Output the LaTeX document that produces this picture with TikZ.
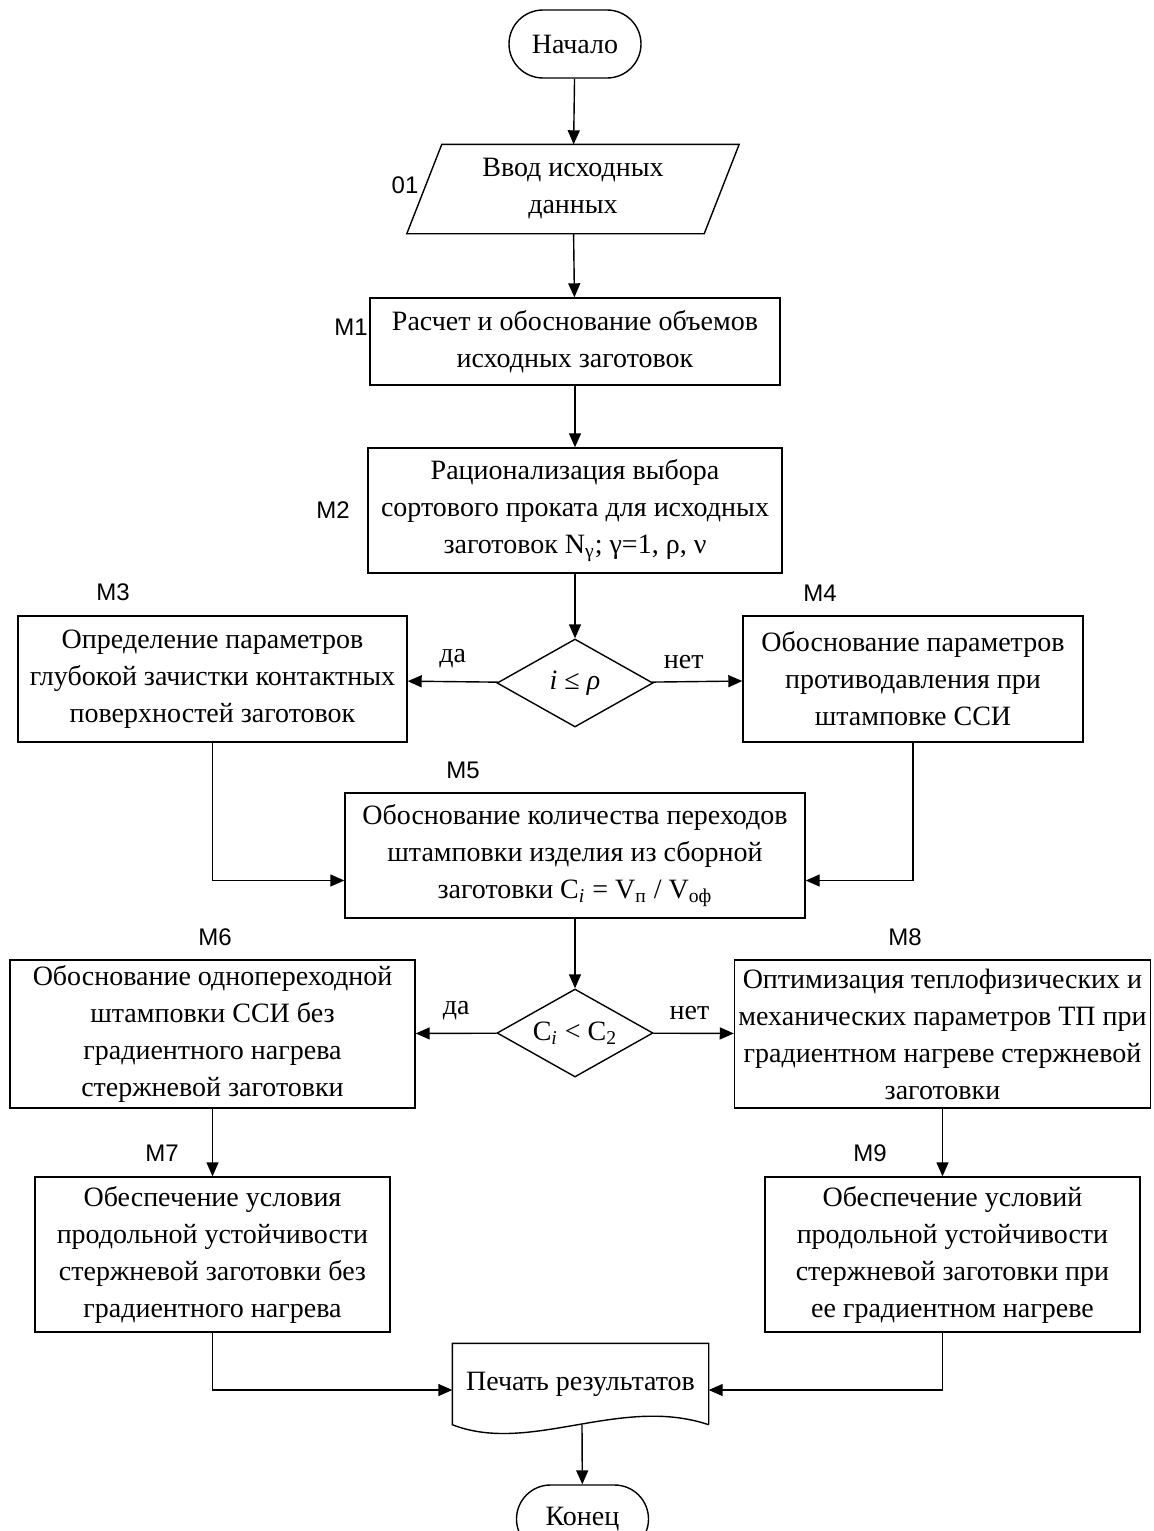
\documentclass[tikz,border=0pt]{standalone}
\usepackage{fontspec}
\setmainfont{Liberation Serif}
\newfontfamily\labfont{Liberation Sans}
\usetikzlibrary{arrows.meta,shapes.misc,shapes.geometric,calc}

\begin{document}
\begin{tikzpicture}[x=0.5pt,y=-0.5pt,line width=0.7pt,>={Triangle[length=7pt,width=6pt]}]
    \tikzstyle{block}=[draw,align=center,inner sep=2pt,font=\fontsize{14}{18.5}\selectfont]
    \tikzstyle{term}=[draw,rounded rectangle,minimum width=70pt,minimum height=34pt,inner sep=2pt,font=\fontsize{14}{18.5}\selectfont]
    \tikzstyle{cond}=[draw,diamond,aspect=1.8,inner sep=0pt,minimum width=78pt,minimum height=44pt,font=\fontsize{14}{18.5}\selectfont]
    \tikzstyle{lab}=[font=\labfont\fontsize{12}{14}\selectfont]
    \tikzstyle{ans}=[font=\fontsize{14}{18.5}\selectfont]

    \useasboundingbox (0,0) rectangle (1153,1531);
    \clip (0,0) rectangle (1153,1531);

    % terminals and input
    \node[term] (start) at (575,44) {Начало};
    \node[align=center,inner sep=0pt,minimum width=148pt,minimum height=44pt,font=\fontsize{14}{18.5}\selectfont] (input) at (573,189) {Ввод исходных\\данных};
    \draw ($(input.north west)+(17.5,0)$) -- ($(input.north east)+(17.5,0)$) -- ($(input.south east)+(-17.5,0)$) -- ($(input.south west)+(-17.5,0)$) -- cycle;

    % main blocks
    \node[block,minimum width=205pt,minimum height=43.5pt] (m1) at (575,341.5) {Расчет и обоснование объемов\\исходных заготовок};
    \node[block,minimum width=207pt,minimum height=62.5pt] (m2) at (575,510.5) {Рационализация выбора\\сортового проката для исходных\\заготовок N\textsubscript{γ}; γ=1, ρ, ν};
    \node[cond] (c1) at (575,683) {{\itshape i} ≤ {\itshape ρ}};
    \node[block,minimum width=194.5pt,minimum height=63pt] (m3) at (212.5,679) {Определение параметров\\глубокой зачистки контактных\\поверхностей заготовок};
    \node[block,minimum width=170pt,minimum height=63pt] (m4) at (913,679) {Обоснование параметров\\противодавления при\\штамповке ССИ};
    \node[block,minimum width=230pt,minimum height=62.5pt] (m5) at (575,855.5) {Обоснование количества переходов\\штамповки изделия из сборной\\заготовки C\textsubscript{\itshape i} = V\textsubscript{п} / V\textsubscript{оф}};
    \node[cond] (c2) at (575,1033) {C\textsubscript{\itshape i} < C\textsubscript{2}};
    \node[block,minimum width=202.5pt,minimum height=74pt] (m6) at (212.5,1034) {Обоснование однопереходной\\штамповки ССИ без\\градиентного нагрева\\стержневой заготовки};
    \node[block,minimum width=207.5pt,minimum height=74pt] (m8) at (942.5,1034) {Оптимизация теплофизических и\\механических параметров ТП при\\градиентном нагреве стержневой\\заготовки};
    \node[block,minimum width=177.5pt,minimum height=77.5pt] (m7) at (212.5,1254.5) {Обеспечение условия\\продольной устойчивости\\стержневой заготовки без\\градиентного нагрева};
    \node[block,minimum width=187.5pt,minimum height=77.5pt] (m9) at (952.5,1254.5) {Обеспечение условий\\продольной устойчивости\\стержневой заготовки при\\ее градиентном нагреве};

    % output document and end
    \node[inner sep=0pt,minimum width=127.5pt,minimum height=40pt,font=\fontsize{14}{18.5}\selectfont] (print) at (580.5,1384) {Печать результатов};
    \draw (print.south east) -- (print.north east) -- (print.north west) -- (print.south west)
        .. controls (530,1455) and (620,1395) .. (print.south east);
    \coordinate (printout) at (582,1425);
    \node[term] (stop) at (582.5,1519) {Конец};

    % block numbers
    \foreach \name/\x/\y in {01/405/185, M1/351/327, M2/333/510, M3/113/592, M4/820/593,
                              M5/463/770, M6/215/937, M8/905/937, M7/162/1153, M9/870/1153}
        \node[lab] (lab-\name) at (\x,\y) {\name};

    % connections
    \draw[->] (start) -- (input);
    \draw[->] (input) -- (m1);
    \draw[->] (m1) -- (m2);
    \draw[->] (m2) -- (c1);
    \draw[->] (c1) -- node[ans,above=3pt] {да} (m3);
    \draw[->] (c1) -- node[ans,above=3pt,pos=.35] {нет} (m4);
    \draw[->] (m3.south) |- ($(m5.west)+(0,25)$);
    \draw[->] (m4.south) |- ($(m5.east)+(0,25)$);
    \draw[->] (m5) -- (c2);
    \draw[->] (c2) -- node[ans,above=3pt] {да} (m6);
    \draw[->] (c2) -- node[ans,above=3pt,pos=.45] {нет} (m8);
    \draw[->] (m6) -- (m7);
    \draw[->] (m8.south) -- (m8.south |- m9.north);
    \draw[->] (m7.south) |- ($(print.west)+(0,6)$);
    \draw[->] (m8.south |- m9.south) |- ($(print.east)+(0,6)$);
    \draw[->] (printout) -- (stop);
\end{tikzpicture}
\end{document}
